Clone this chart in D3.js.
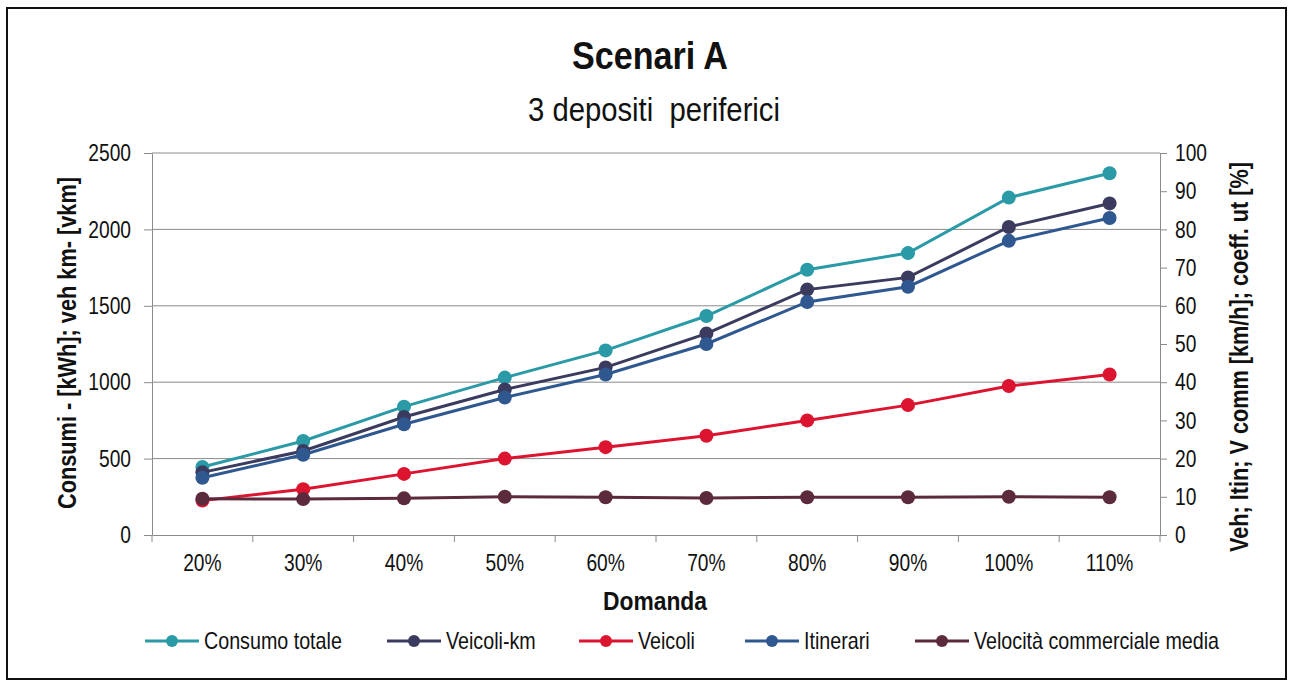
<!DOCTYPE html>
<html>
<head>
<meta charset="utf-8">
<script src="https://cdn.jsdelivr.net/npm/d3@7"></script>
<style>
  html, body { margin: 0; padding: 0; background: #fff; }
  svg { display: block; }
  text { font-family: "Liberation Sans", Arial, sans-serif; fill: #111; }
  .grid line { stroke: #8a8a8a; stroke-width: 1; }
</style>
</head>
<body>
<svg id="chart" width="1291" height="684"></svg>
<script>
/* global d3 */

const categories = ["20%", "30%", "40%", "50%", "60%", "70%", "80%", "90%", "100%", "110%"];

// left axis: Consumi [kWh]; veh km [vkm]
const consumoTotale = [445, 615, 840, 1030, 1208, 1433, 1736, 1845, 2208, 2367];
const veicoliKm = [410, 550, 772, 952, 1097, 1318, 1606, 1686, 2016, 2170];

// right axis: Veh; Itin; V comm [km/h]
const veicoli = [9, 12, 16, 20, 23, 26, 30, 34, 39, 42];
const itinerari = [15, 21, 29, 36, 42, 50, 61, 65, 77, 83];
const velocita = [9.5, 9.4, 9.6, 10, 9.9, 9.7, 9.9, 9.9, 10, 9.9];

const leftTicks = [0, 500, 1000, 1500, 2000, 2500];
const rightTicks = [0, 10, 20, 30, 40, 50, 60, 70, 80, 90, 100];

const series = [
  { name: "Consumo totale", values: consumoTotale, axis: "left", color: "#2a9aa6" },
  { name: "Veicoli-km", values: veicoliKm, axis: "left", color: "#3a3b5e" },
  { name: "Veicoli", values: veicoli, axis: "right", color: "#dc1430" },
  { name: "Itinerari", values: itinerari, axis: "right", color: "#2f5890" },
  { name: "Velocità commerciale media", values: velocita, axis: "right", color: "#5b2a3c" }
];

const svg = d3.select("#chart");
const plot = { left: 152, right: 1160, top: 153, bottom: 535 };

const x = d3.scaleBand().domain(categories).range([plot.left, plot.right]).padding(0);
const yLeft = d3.scaleLinear().domain([0, 2500]).range([plot.bottom, plot.top]);
const yRight = d3.scaleLinear().domain([0, 100]).range([plot.bottom, plot.top]);

/** No narrow font installed: squeeze text horizontally to mimic Arial Narrow. */
function squeeze(sel, factor) {
  sel.each(function() {
    const w = this.getComputedTextLength();
    this.setAttribute("textLength", w * factor);
    this.setAttribute("lengthAdjust", "spacingAndGlyphs");
  });
}

// outer frame
svg.append("rect")
  .attr("x", 7).attr("y", 8).attr("width", 1279).attr("height", 671)
  .attr("fill", "#fff").attr("stroke", "#111").attr("stroke-width", 2);

// titles
svg.append("text")
  .attr("x", 650).attr("y", 69)
  .attr("text-anchor", "middle")
  .style("font-weight", "bold").style("font-size", "38px")
  .text("Scenari A")
  .attr("textLength", 156).attr("lengthAdjust", "spacingAndGlyphs");
svg.append("text")
  .attr("x", 654).attr("y", 121)
  .attr("text-anchor", "middle")
  .style("font-size", "33px").style("white-space", "pre")
  .text("3 depositi  periferici")
  .attr("textLength", 252).attr("lengthAdjust", "spacingAndGlyphs");

// gridlines
svg.append("g").attr("class", "grid")
  .selectAll("line")
  .data(leftTicks.slice(1))
  .join("line")
  .attr("x1", plot.left).attr("x2", plot.right)
  .attr("y1", d => yLeft(d)).attr("y2", d => yLeft(d));

// axes
const axisStyle = g => {
  g.select(".domain").attr("stroke", "#8a8a8a");
  g.selectAll(".tick line").attr("stroke", "#8a8a8a");
  g.selectAll(".tick text")
    .style("font-size", "24px")
    .style("font-family", "'Liberation Sans', Arial, sans-serif")
    .attr("fill", "#111")
    .call(squeeze, 0.8);
};

svg.append("g")
  .attr("transform", `translate(${plot.left},0)`)
  .call(d3.axisLeft(yLeft).tickValues(leftTicks).tickFormat(d3.format("d"))
    .tickSize(8).tickSizeOuter(0).tickPadding(13))
  .call(axisStyle);

svg.append("g")
  .attr("transform", `translate(${plot.right},0)`)
  .call(d3.axisRight(yRight).tickValues(rightTicks).tickFormat(d3.format("d"))
    .tickSize(7).tickSizeOuter(0).tickPadding(8))
  .call(axisStyle);

const xAxis = svg.append("g")
  .attr("transform", `translate(0,${plot.bottom})`)
  .call(d3.axisBottom(x).tickSize(0).tickPadding(19))
  .call(axisStyle);

// category separator ticks
xAxis.selectAll(".sep")
  .data(d3.range(categories.length + 1))
  .join("line")
  .attr("class", "sep")
  .attr("stroke", "#8a8a8a")
  .attr("x1", i => plot.left + i * x.bandwidth())
  .attr("x2", i => plot.left + i * x.bandwidth())
  .attr("y1", 0).attr("y2", 7);

// axis titles
svg.append("text")
  .attr("x", 655).attr("y", 610)
  .attr("text-anchor", "middle")
  .style("font-weight", "bold").style("font-size", "25px")
  .text("Domanda")
  .attr("textLength", 104).attr("lengthAdjust", "spacingAndGlyphs");

svg.append("text")
  .attr("transform", "translate(76,343) rotate(-90)")
  .attr("text-anchor", "middle")
  .style("font-weight", "bold").style("font-size", "25px")
  .text("Consumi - [kWh]; veh km- [vkm]")
  .attr("textLength", 332).attr("lengthAdjust", "spacingAndGlyphs");

svg.append("text")
  .attr("transform", "translate(1248,357) rotate(-90)")
  .attr("text-anchor", "middle")
  .style("font-weight", "bold").style("font-size", "26px")
  .text("Veh; Itin; V comm [km/h]; coeff. ut [%]")
  .attr("textLength", 390).attr("lengthAdjust", "spacingAndGlyphs");

// lines and markers
const cx = d => x(d) + x.bandwidth() / 2;
const lineLayer = svg.append("g");

series.forEach(s => {
  const y = s.axis === "left" ? yLeft : yRight;
  const pts = categories.map((c, i) => [cx(c), y(s.values[i])]);
  lineLayer.append("path")
    .attr("d", d3.line()(pts))
    .attr("fill", "none")
    .attr("stroke", s.color)
    .attr("stroke-width", 3);
  lineLayer.selectAll(null)
    .data(pts)
    .join("circle")
    .attr("cx", d => d[0]).attr("cy", d => d[1])
    .attr("r", 7)
    .attr("fill", s.color);
});

// legend
const legendX = [145, 387, 579, 745, 915];
const legend = svg.append("g")
  .selectAll("g")
  .data(series)
  .join("g")
  .attr("transform", (d, i) => `translate(${legendX[i]},641)`);

legend.append("line")
  .attr("x1", 0).attr("x2", 54)
  .attr("stroke", d => d.color).attr("stroke-width", 3);
legend.append("circle")
  .attr("cx", 27).attr("r", 6)
  .attr("fill", d => d.color);
legend.append("text")
  .attr("x", 59).attr("y", 8)
  .style("font-size", "24px")
  .text(d => d.name)
  .call(squeeze, 0.82);
</script>
</body>
</html>
